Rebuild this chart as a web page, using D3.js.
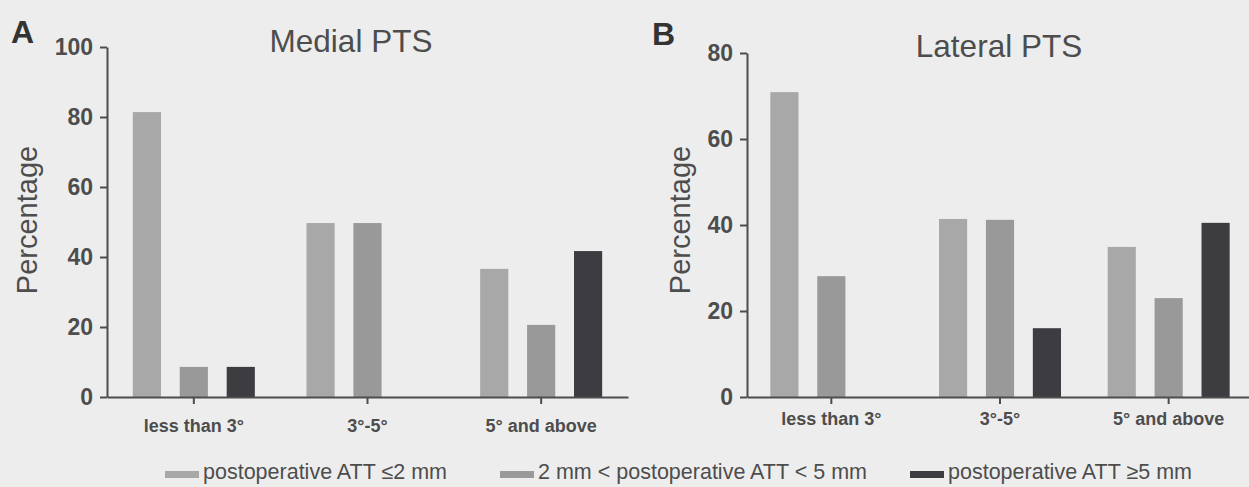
<!DOCTYPE html>
<html>
<head>
<meta charset="utf-8">
<script src="https://cdn.jsdelivr.net/npm/d3@7"></script>
<style>
  body { margin: 0; background: #ededed; }
  svg { display: block; font-family: "Liberation Sans", Arial, sans-serif; }
</style>
</head>
<body>
<svg width="1249" height="487"></svg>
<script>
// data
var categories = ['less than 3°', '3°-5°', '5° and above'];
var seriesNames = ['postoperative ATT ≤2 mm', '2 mm < postoperative ATT < 5 mm', 'postoperative ATT ≥5 mm'];
var medialLow = [81.4, 49.7, 36.6];
var medialMid = [8.6, 49.7, 20.6];
var medialHigh = [8.6, 0, 41.7];
var lateralLow = [70.9, 41.4, 34.9];
var lateralMid = [28.1, 41.2, 23.0];
var lateralHigh = [0, 16.0, 40.5];
var medialTicks = [0, 20, 40, 60, 80, 100];
var lateralTicks = [0, 20, 40, 60, 80];

var colors = ['#a8a8a8', '#999999', '#3d3d41'];
var ink = '#4d4d4d';

var svg = d3.select('svg');

function panel(opt) {
    var rows = categories.map(function(c, i) {
        return { cat: c, vals: opt.series.map(function(s) { return s[i]; }) };
    });
    var y = d3.scaleLinear().domain([0, opt.max]).range([397, opt.top]);
    var x = d3.scaleBand().domain(categories).range([opt.left, opt.right]);
    var xs = d3.scaleBand().domain(d3.range(3)).range([-61, 61]).paddingInner(0.4);

    var g = svg.append('g');

    var grp = g.selectAll('.grp').data(rows).enter()
        .append('g')
        .attr('class', 'grp')
        .attr('transform', function(d) {
            return 'translate(' + (x(d.cat) + x.bandwidth() / 2) + ',0)';
        });
    grp.selectAll('rect').data(function(d) { return d.vals; }).enter()
        .append('rect')
        .attr('x', function(d, i) { return xs(i); })
        .attr('width', xs.bandwidth())
        .attr('y', function(d) { return y(d); })
        .attr('height', function(d) { return 397 - y(d); })
        .attr('fill', function(d, i) { return colors[i]; });

    var yAxis = g.append('g')
        .attr('transform', 'translate(' + opt.left + ',0)')
        .call(d3.axisLeft(y).tickValues(opt.ticks).tickSize(7).tickSizeOuter(0).tickPadding(7));
    yAxis.selectAll('text')
        .attr('font-size', 23).attr('font-weight', 'bold').attr('fill', ink)
        .attr('font-family', '"Liberation Sans", Arial, sans-serif');

    var xAxis = g.append('g')
        .attr('transform', 'translate(0,397)')
        .call(d3.axisBottom(x).tickSize(7).tickSizeOuter(0).tickPadding(opt.labelPad));
    xAxis.selectAll('text')
        .attr('font-size', 18).attr('font-weight', 'bold').attr('fill', ink)
        .attr('font-family', '"Liberation Sans", Arial, sans-serif');

    g.selectAll('.domain, .tick line').attr('stroke', ink).attr('stroke-width', 2);

    g.append('text')
        .attr('x', opt.titleX).attr('y', opt.titleY)
        .attr('text-anchor', 'middle')
        .attr('font-size', 31.5).attr('fill', ink)
        .text(opt.title);

    g.append('text')
        .attr('transform', 'translate(' + opt.labelX + ',220) rotate(-90)')
        .attr('text-anchor', 'middle')
        .attr('font-size', 29).attr('fill', ink)
        .text('Percentage');

    g.append('text')
        .attr('x', opt.letterX).attr('y', opt.letterY)
        .attr('font-size', 32).attr('font-weight', 'bold').attr('fill', '#333')
        .text(opt.letter);
}

panel({
    series: [medialLow, medialMid, medialHigh], max: 100, top: 47, ticks: medialTicks,
    left: 107, right: 628, labelPad: 15, title: 'Medial PTS', titleX: 351, titleY: 52,
    labelX: 37, letter: 'A', letterX: 11, letterY: 43
});
panel({
    series: [lateralLow, lateralMid, lateralHigh], max: 80, top: 53, ticks: lateralTicks,
    left: 747, right: 1253, labelPad: 8, title: 'Lateral PTS', titleX: 999, titleY: 57,
    labelX: 690, letter: 'B', letterX: 652, letterY: 45
});

// legend
var legendX = [165, 500, 910];
var legend = svg.selectAll('.legend').data(seriesNames).enter()
    .append('g')
    .attr('class', 'legend')
    .attr('transform', function(d, i) { return 'translate(' + legendX[i] + ',479)'; });
legend.append('rect')
    .attr('y', -8).attr('width', 34).attr('height', 7)
    .attr('fill', function(d, i) { return colors[i]; });
legend.append('text')
    .attr('x', 38)
    .attr('font-size', 21.5).attr('fill', ink)
    .text(function(d) { return d; });
</script>
</body>
</html>
